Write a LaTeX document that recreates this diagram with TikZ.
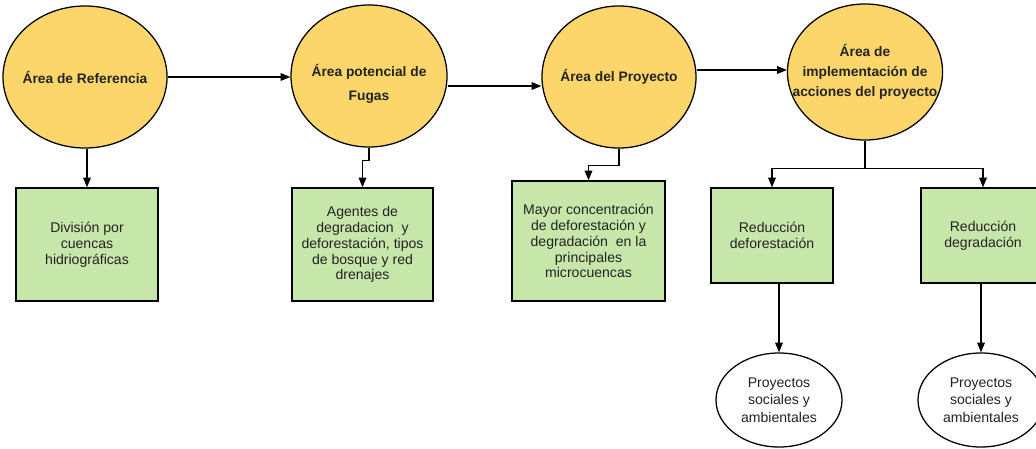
\documentclass[tikz,border=0pt]{standalone}
\usepackage{fontspec}
\setmainfont{Liberation Sans}
\usetikzlibrary{shapes.geometric,arrows.meta}
\definecolor{areayellow}{RGB}{252,214,106}
\definecolor{boxgreen}{RGB}{199,231,170}
\definecolor{textgray}{RGB}{35,35,35}

\begin{document}
\begin{tikzpicture}[x=0.025cm, y=-0.025cm,
    area/.style={ellipse, draw, line width=0.9pt, fill=areayellow, minimum width=3.9cm, minimum height=3.55cm, inner sep=0pt},
    areatext/.style={align=center, font=\fontsize{9.8}{14}\selectfont\bfseries, text=textgray, inner sep=0pt},
    box/.style={rectangle, draw, line width=0.9pt, fill=boxgreen, align=center, font=\fontsize{10}{11.3}\selectfont, text=textgray, inner sep=2pt},
    project/.style={ellipse, draw, line width=0.9pt, fill=white, minimum width=3.15cm, minimum height=2.35cm, inner sep=0pt, align=center, font=\fontsize{10}{12.6}\selectfont, text=textgray},
    link/.style={-{Triangle[width=5.5pt,length=7pt]}, line width=0.9pt}]
    \useasboundingbox (0,0) rectangle (1036,448);
    \clip (0,0) rectangle (1036,448);

    % Áreas
    \node[area, minimum width=4.1cm] (ref) at (85,77) {};
    \node[areatext] (reft) at (ref) {Área de Referencia};
    \node[area] (fug) at (369,76) {};
    \node[areatext] (fugt) at ([yshift=-0.2cm]fug) {Área potencial de\\[3pt]Fugas};
    \node[area, minimum width=3.85cm] (proy) at (619,77) {};
    \node[areatext] (proyt) at (proy) {Área del Proyecto};
    \node[area, minimum width=3.875cm, minimum height=3.4cm] (impl) at (865,72) {};
    \node[areatext] (implt) at (impl) {Área de\\implementación de\\acciones del proyecto};

    % Flechas entre áreas
    \draw[link] (ref.east) -- (ref.east -| fug.west);
    \draw[link] ([yshift=-0.25cm]fug.east) -- ([yshift=-0.25cm]fug.east -| proy.west);
    \draw[link] ([yshift=0.175cm]proy.east) -- ([yshift=0.175cm]proy.east -| impl.west);

    % Cajas
    \node[box, minimum width=3.55cm, minimum height=2.825cm] (div) at (87,244.5) {División por\\cuencas\\hidriográficas};
    \node[box, minimum width=3.525cm, minimum height=2.825cm] (agen) at (362.5,244.5) {Agentes de\\degradacion~ y\\deforestación, tipos\\de bosque y red\\drenajes};
    \node[box, minimum width=3.825cm, minimum height=3cm] (mayor) at (588.5,241) {Mayor concentración\\de deforestación y\\degradación~ en la\\principales\\microcuencas};
    \node[box, minimum width=3.05cm, minimum height=2.375cm] (rdef) at (772,235.5) {Reducción\\deforestación};
    \node[box, minimum width=3.1cm, minimum height=2.375cm] (rdeg) at (983,235.5) {Reducción\\degradación};

    % Proyectos
    \node[project] (pdef) at (779,400) {Proyectos\\sociales y\\ambientales};
    \node[project] (pdeg) at (981,400) {Proyectos\\sociales y\\ambientales};

    % Flechas hacia abajo
    \draw[link] (ref.south -| div.north) -- (div.north);
    \draw[link] (fug.south) -- ++(0,13) -| (agen.north);
    \draw[link] (proy.south) -- ++(0,17) -| (mayor.north);
    \draw[line width=0.9pt] (impl.south) -- ++(0,28) coordinate (split);
    \draw[link] (split) -| (rdef.north);
    \draw[link] (split) -| (rdeg.north);
    \draw[link] (pdef.north |- rdef.south) -- (pdef.north);
    \draw[link] (pdeg.north |- rdeg.south) -- (pdeg.north);
\end{tikzpicture}
\end{document}
